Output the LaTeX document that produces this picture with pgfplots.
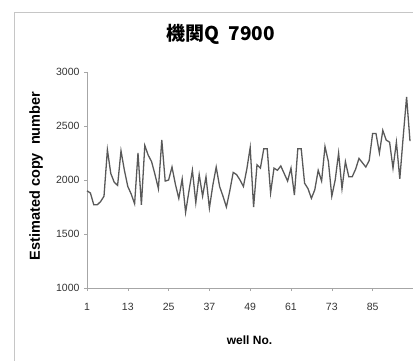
\documentclass[border=0pt]{standalone}
\usepackage{pgfplots}
\pgfplotsset{compat=1.18}
\usepackage{fontspec}
\setmainfont{Liberation Sans}
\newfontfamily\cjk{Noto Sans CJK JP}
\pgfplotstableread{
well value
1 1900
2 1880
3 1770
4 1770
5 1800
6 1850
7 2280
8 2060
9 1980
10 1950
11 2270
12 2090
13 1940
14 1870
15 1780
16 2250
17 1770
18 2320
19 2230
20 2170
21 2050
22 1920
23 2370
24 1990
25 2000
26 2120
27 1960
28 1830
29 2010
30 1700
31 1900
32 2090
33 1790
34 2050
35 1850
36 2030
37 1740
38 1950
39 2120
40 1940
41 1850
42 1750
43 1900
44 2070
45 2050
46 2000
47 1940
48 2100
49 2300
50 1750
51 2140
52 2110
53 2290
54 2290
55 1880
56 2110
57 2090
58 2130
59 2060
60 1990
61 2110
62 1860
63 2290
64 2290
65 1970
66 1920
67 1830
68 1910
69 2090
70 1990
71 2310
72 2170
73 1850
74 2000
75 2250
76 1920
77 2170
78 2030
79 2030
80 2100
81 2200
82 2160
83 2120
84 2180
85 2430
86 2430
87 2250
88 2460
89 2370
90 2350
91 2110
92 2350
93 2010
94 2400
95 2770
96 2360
}\datatable
\begin{document}
\begin{tikzpicture}
\useasboundingbox (0,0) rectangle (413pt,360pt);
\draw[gray!45, line width=1pt] (14pt,-5pt) -- (14pt,348pt) -- (420pt,348pt);
\begin{axis}[
  at={(87pt,72pt)}, anchor=south west, scale only axis,
  width=326.4pt, height=216pt,
  xmin=1, xmax=97, ymin=1000, ymax=3000,
  xtick={1,13,...,85}, ytick={1000,1500,...,3000},
  axis x line*=bottom, axis y line*=left,
  axis line style={gray!70, -},
  tick style={gray!70},
  tick align=outside, major tick length=3pt,
  /pgf/number format/assume math mode=true,
  /pgf/number format/1000 sep={},
  tick label style={font=\fontsize{10.5}{12}\selectfont, text=black!80},
  xticklabel style={yshift=-9pt},
  yticklabel style={xshift=-1pt},
  title={\cjk\bfseries 機関Q\ \ 7900},
  title style={at={(axis description cs:0.41,1.148)}, anchor=center, font=\fontsize{19}{21}\selectfont},
  xlabel={well No.},
  xlabel style={at={(axis description cs:0.498,-0.241)}, anchor=center, font=\bfseries\fontsize{12}{14}\selectfont},
  ylabel={Estimated copy\ \ number},
  ylabel style={at={(axis description cs:-0.156,0.5185)}, anchor=center, font=\bfseries\fontsize{14.5}{16}\selectfont},
  clip=false,
]
\addplot[color=black!65, line width=1.3pt, mark=none] table[x=well, y=value] {\datatable};
\end{axis}
\end{tikzpicture}
\end{document}
